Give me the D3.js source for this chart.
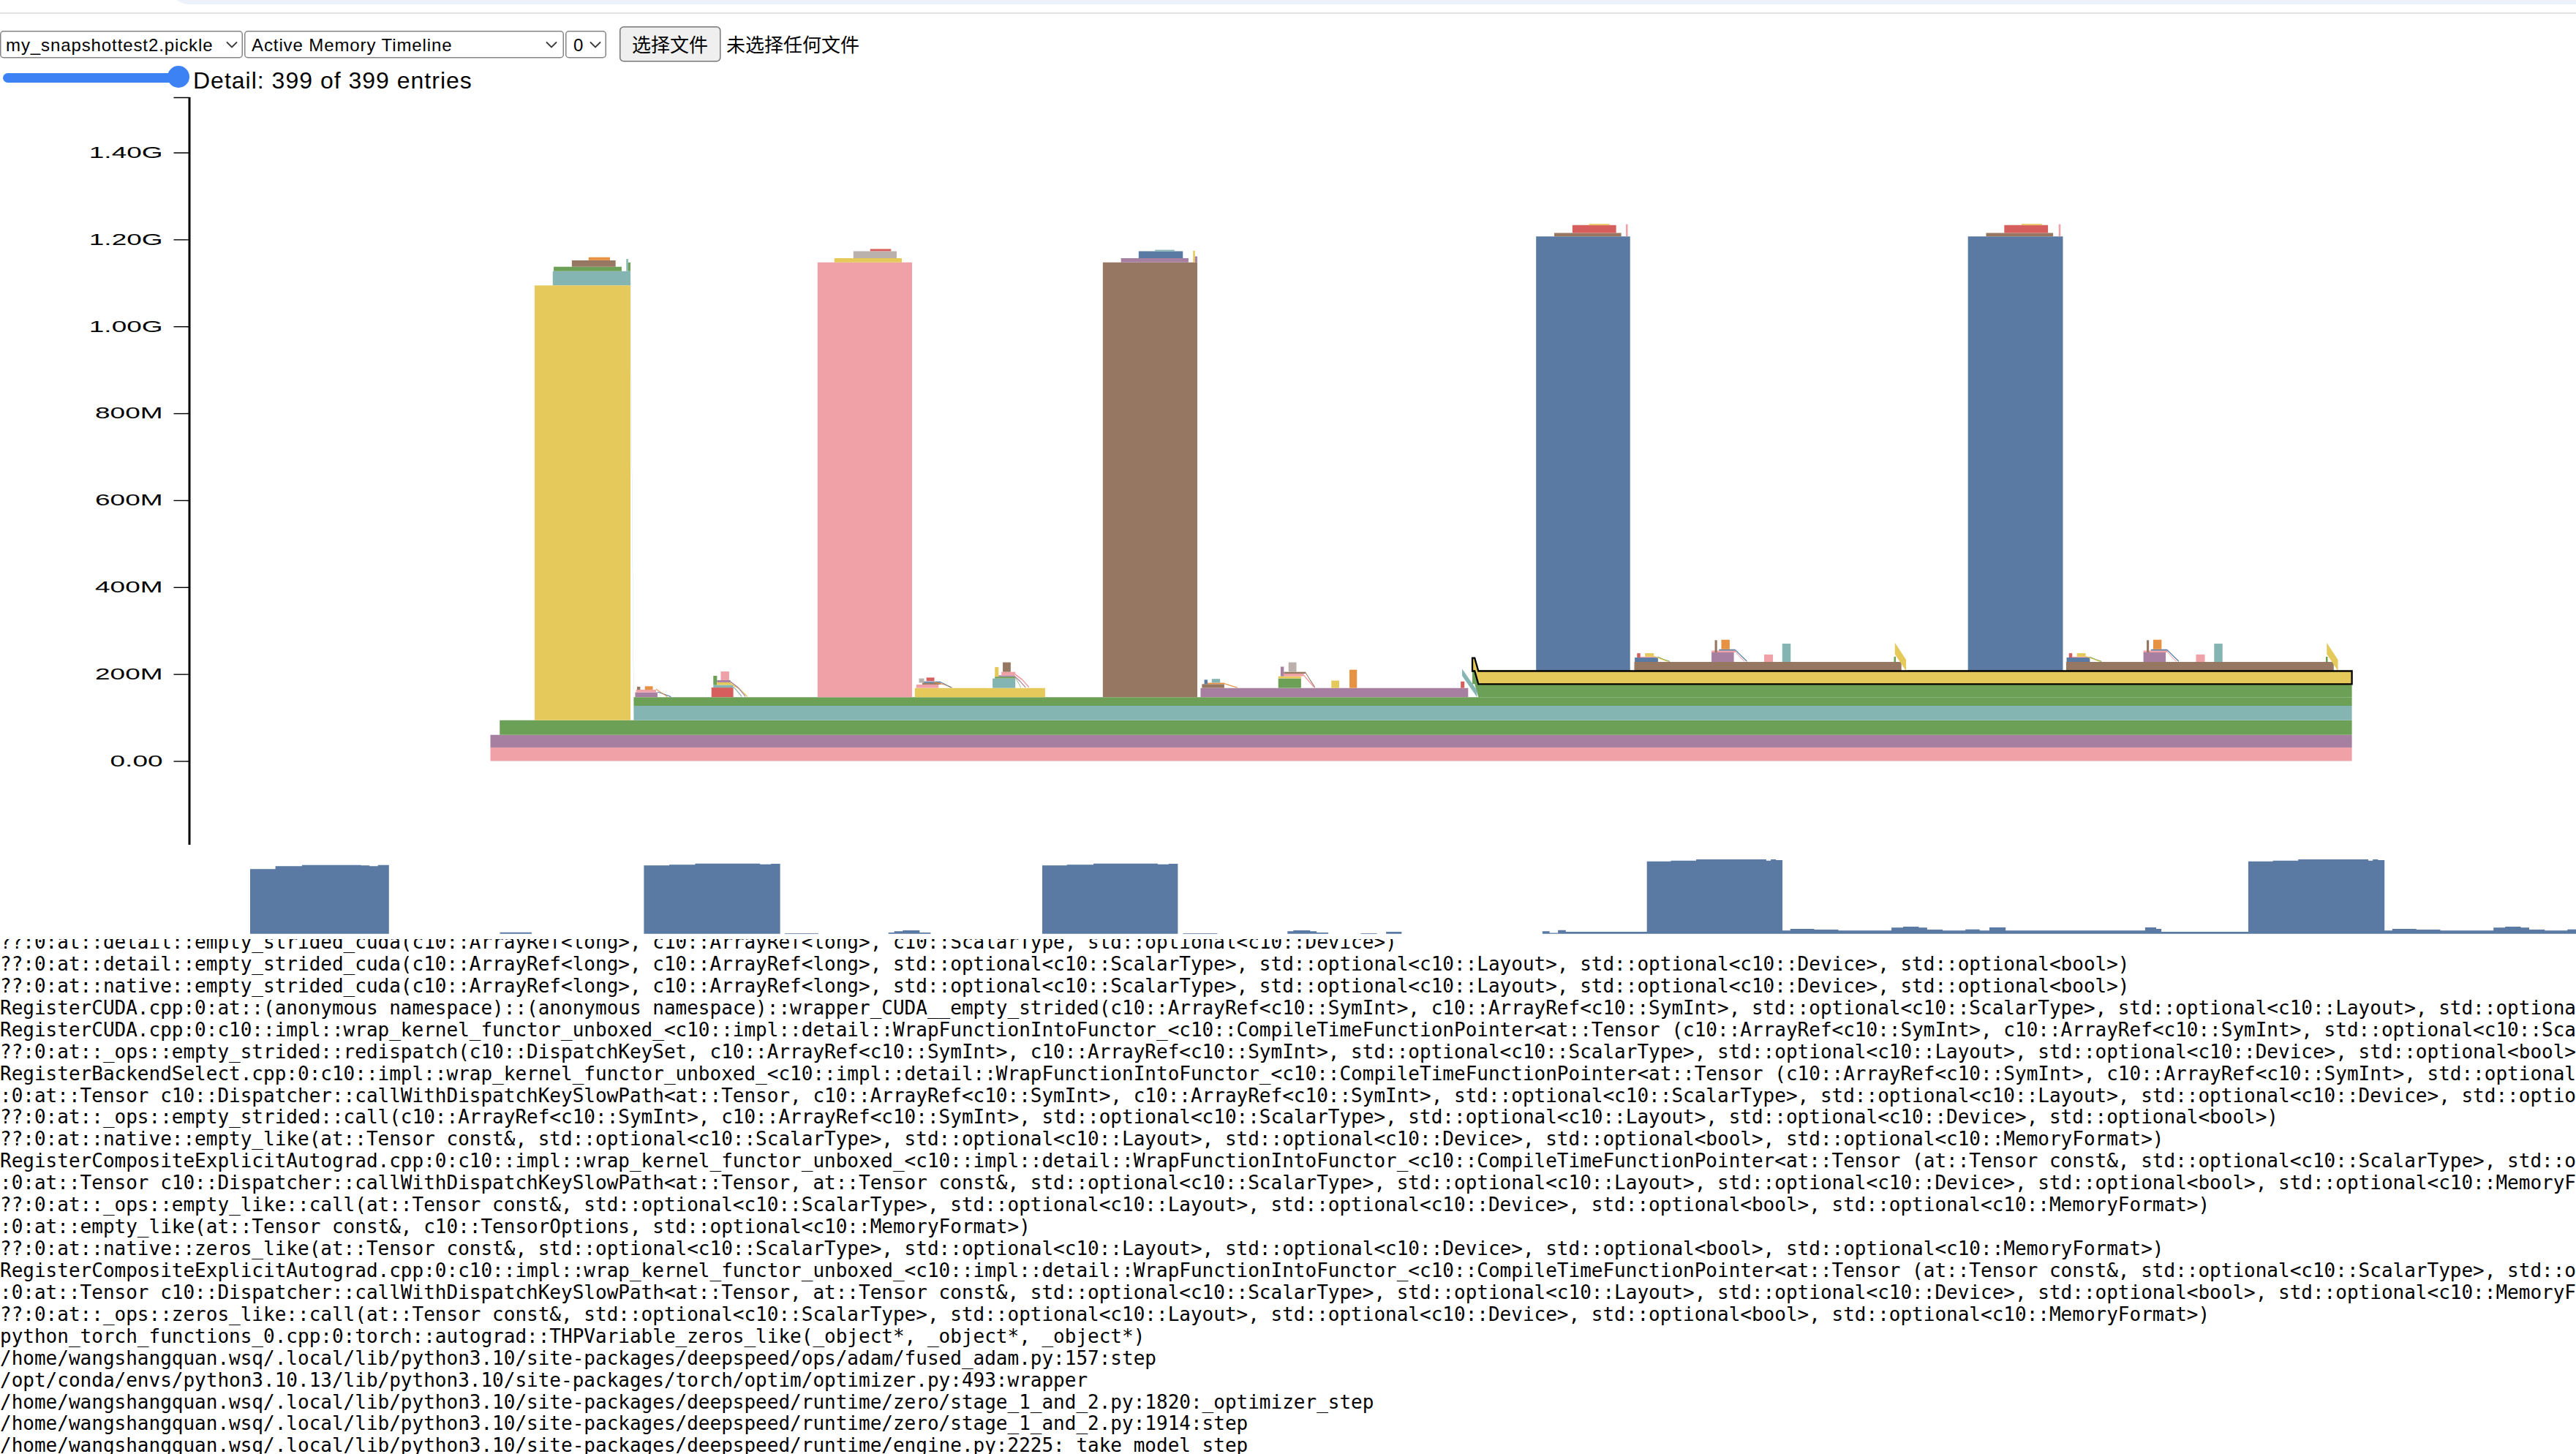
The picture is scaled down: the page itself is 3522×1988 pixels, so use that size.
<!DOCTYPE html>
<html><head><meta charset="utf-8">
<script src="https://cdnjs.cloudflare.com/ajax/libs/d3/7.8.5/d3.min.js"></script>
<style>
html,body{margin:0;padding:0;width:3522px;height:1988px;overflow:hidden;background:#fff;}
svg{position:absolute;left:0;top:0;}
</style></head><body>
<svg id="page" width="3522" height="1988"></svg>
<script>
// ---------------- data ----------------
const palette = ["#5a7aa3","#e79142","#d65f5e","#85b5b2","#6ca057","#e5c95b","#a77fa0","#f0a1a7","#967862","#bab0ac"];
const yTicks = [0, 2e8, 4e8, 6e8, 8e8, 1e9, 1.2e9, 1.4e9];   // bytes
const timeDomain = [0, 400];                                  // trace entries

// each allocation: colour index, timesteps, offsets (MB), size (MB)
const baseLayers = [
  {c:7,t:[0,400],o:[0,0],s:31},
  {c:6,t:[0,400],o:[31,31],s:29},
  {c:4,t:[2,400],o:[60,60],s:34},
  {c:3,t:[13.4,30.1,30.8,400],o:[1094,1094,94,94],s:33},
  {c:4,t:[30.8,400],o:[127,127],s:20}
];
const peakBars = [
  {c:5,t:[9.5,30.1],o:[94,94],s:1000},
  {c:7,t:[70.3,90.6],o:[147,147],s:1000},
  {c:8,t:[131.6,151.9],o:[147,147],s:1000},
  {c:0,t:[224.7,244.9],o:[207,207],s:1000},
  {c:0,t:[317.5,337.9],o:[207,207],s:1000}
];
const peakCaps = [
  {c:4,t:[13.6,28.2],o:[1127,1127],s:10},
  {c:8,t:[17.5,26.9],o:[1137,1137],s:15},
  {c:1,t:[21.1,25.7],o:[1152,1152],s:7},
  {c:3,t:[29.2,29.6],o:[1127,1127],s:28},
  {c:4,t:[29.6,30.1],o:[1127,1127],s:20},
  {c:5,t:[73.9,88.4],o:[1147,1147],s:10},
  {c:9,t:[78.0,87.3],o:[1157,1157],s:16},
  {c:2,t:[81.6,86.1],o:[1173,1173],s:5},
  {c:6,t:[135.5,150.0],o:[1147,1147],s:10},
  {c:0,t:[139.3,148.8],o:[1157,1157],s:16},
  {c:3,t:[142.8,147.0],o:[1173,1173],s:3},
  {c:5,t:[151.0,151.4],o:[1147,1147],s:27},
  {c:6,t:[151.4,151.9],o:[1147,1147],s:14},
  {c:8,t:[228.6,243.0],o:[1207,1207],s:8},
  {c:2,t:[232.5,241.9],o:[1215,1215],s:18},
  {c:5,t:[236.1,240.5],o:[1233,1233],s:3},
  {c:7,t:[244.0,244.4],o:[1207,1207],s:28},
  {c:8,t:[321.4,335.8],o:[1207,1207],s:8},
  {c:2,t:[325.3,334.7],o:[1215,1215],s:18},
  {c:5,t:[329.0,333.4],o:[1233,1233],s:3},
  {c:7,t:[337.0,337.4],o:[1207,1207],s:28}
];
const plateaus = [
  {c:5,t:[91.2,119.2],o:[147,147],s:21},
  {c:6,t:[152.6,210.1],o:[147,147],s:21},
  {c:4,t:[211.0,211.5,212.3,400],o:[177,177,147,147],s:30},
  {c:8,t:[245.8,303.2],o:[207,207],s:21},
  {c:8,t:[338.6,396.1],o:[207,207],s:21},
  {c:8,t:[212.5,224.7],o:[207,207],s:1.5},
  {c:8,t:[304.5,317.5],o:[207,207],s:1.5}
];
const smallBursts = [
  // after yellow peak
  {c:6,t:[31.1,35.9],o:[147,147],s:11},
  {c:7,t:[31.3,35.6],o:[158,158],s:6},
  {c:8,t:[31.5,32.2],o:[164,164],s:7},
  {c:1,t:[33.2,34.9],o:[164,164],s:8},
  {c:0,t:[35.9,36.8,38.8],o:[158,155,147],s:2},
  {c:1,t:[35.6,36.5,38.0],o:[164,158,147],s:2},
  {c:2,t:[47.5,52.2],o:[147,147],s:22},
  {c:3,t:[47.9,52.2],o:[169,169],s:6},
  {c:4,t:[47.9,48.7],o:[175,175],s:21},
  {c:5,t:[48.7,51.8],o:[175,175],s:6},
  {c:6,t:[48.7,51.6],o:[181,181],s:5},
  {c:7,t:[49.5,51.3],o:[186,186],s:20},
  {c:5,t:[51.8,53.5,55.2],o:[175,165,147],s:3},
  {c:6,t:[51.6,53.2,54.8],o:[181,168,147],s:3},
  {c:3,t:[52.2,53.0,54.0],o:[169,160,147],s:3},
  // after pink peak
  {c:7,t:[91.5,96.3],o:[168,168],s:8},
  {c:8,t:[92.8,96.8],o:[176,176],s:4},
  {c:0,t:[93.0,96.8],o:[180,180],s:3},
  {c:9,t:[92.1,93.2],o:[180,180],s:10},
  {c:2,t:[93.7,95.4],o:[184,184],s:8},
  {c:1,t:[95.4,97.5,99.2],o:[180,175,168],s:2},
  {c:0,t:[96.8,98.0,99.0],o:[180,174,168],s:2},
  {c:3,t:[107.9,112.8],o:[168,168],s:22},
  {c:4,t:[108.4,112.8],o:[190,190],s:4},
  {c:5,t:[108.4,109.2],o:[194,194],s:22},
  {c:6,t:[109.2,112.6],o:[194,194],s:3},
  {c:7,t:[109.8,112.8],o:[197,197],s:8},
  {c:8,t:[110.1,111.8],o:[205,205],s:22},
  {c:7,t:[112.8,114.3,115.7],o:[197,185,168],s:4},
  {c:6,t:[112.6,113.8,115.0],o:[194,182,168],s:3},
  {c:4,t:[112.8,113.4,114.0],o:[190,180,168],s:2},
  // after brown peak
  {c:8,t:[152.9,157.7],o:[168,168],s:9},
  {c:0,t:[153.4,154.1],o:[177,177],s:10},
  {c:1,t:[154.1,157.7],o:[177,177],s:3},
  {c:3,t:[155.0,156.8],o:[180,180],s:9},
  {c:1,t:[157.7,159.2,160.5],o:[177,172,168],s:2},
  {c:4,t:[169.3,174.2],o:[168,168],s:22},
  {c:5,t:[169.3,174.2],o:[190,190],s:5},
  {c:7,t:[170.5,174.8],o:[195,195],s:6},
  {c:8,t:[170.5,175.2],o:[201,201],s:4},
  {c:6,t:[169.8,170.5],o:[195,195],s:22},
  {c:9,t:[171.5,173.2],o:[205,205],s:22},
  {c:7,t:[174.8,176.0,177.0],o:[195,180,168],s:4},
  {c:8,t:[175.2,176.2,177.2],o:[201,184,168],s:3},
  {c:5,t:[180.7,182.4],o:[168,168],s:17},
  {c:1,t:[184.6,186.2],o:[168,168],s:42},
  {c:2,t:[208.5,209.3],o:[168,168],s:15},
  {c:3,t:[208.8,212.0],o:[196,147],s:16},
  // after first blue peak
  {c:0,t:[245.9,250.9],o:[228,228],s:10},
  {c:2,t:[246.4,247.1],o:[238,238],s:10},
  {c:7,t:[247.1,250.9],o:[238,238],s:2},
  {c:5,t:[248.1,250.0],o:[240,240],s:8},
  {c:4,t:[250.9,252.0,253.4],o:[238,233,228],s:2},
  {c:5,t:[250.0,251.5,253.0],o:[240,234,228],s:2},
  {c:6,t:[262.4,267.2],o:[228,228],s:22},
  {c:7,t:[262.4,267.6],o:[250,250],s:4},
  {c:8,t:[263.1,263.6],o:[250,250],s:28},
  {c:0,t:[264.0,267.5],o:[254,254],s:3},
  {c:1,t:[264.5,266.3],o:[257,257],s:22},
  {c:0,t:[267.5,268.8,270.0],o:[254,240,228],s:3},
  {c:7,t:[267.6,268.5,269.5],o:[250,238,228],s:2},
  {c:7,t:[273.7,275.6],o:[228,228],s:17},
  {c:3,t:[277.6,279.4],o:[228,228],s:42},
  {c:4,t:[301.6,302.0],o:[228,228],s:12},
  {c:5,t:[301.8,304.2],o:[246,207],s:26},
  // after second blue peak
  {c:0,t:[338.7,343.7],o:[228,228],s:10},
  {c:2,t:[339.2,339.9],o:[238,238],s:10},
  {c:7,t:[339.9,343.7],o:[238,238],s:2},
  {c:5,t:[340.9,342.8],o:[240,240],s:8},
  {c:4,t:[343.7,344.8,346.2],o:[238,233,228],s:2},
  {c:5,t:[342.8,344.3,345.8],o:[240,234,228],s:2},
  {c:6,t:[355.2,360.0],o:[228,228],s:22},
  {c:7,t:[355.2,360.4],o:[250,250],s:4},
  {c:8,t:[355.9,356.4],o:[250,250],s:28},
  {c:0,t:[356.8,360.3],o:[254,254],s:3},
  {c:1,t:[357.3,359.1],o:[257,257],s:22},
  {c:0,t:[360.3,361.6,362.8],o:[254,240,228],s:3},
  {c:7,t:[360.4,361.3,362.3],o:[250,238,228],s:2},
  {c:7,t:[366.5,368.4],o:[228,228],s:17},
  {c:3,t:[370.4,372.2],o:[228,228],s:42},
  {c:4,t:[394.4,394.8],o:[228,228],s:12},
  {c:5,t:[394.6,397.0],o:[246,207],s:26}
];
const highlighted = [
  {c:5,t:[211.0,211.5,212.3,400],o:[207,207,177,177],s:30}
];

// minimap: [timestep, max allocated MB] step levels
const miniSteps = [
  [0,0],[9.5,1078],[13.4,1127],[17.5,1146],[26.6,1139],[27.9,1127],[29.2,1146],[30.9,0],
  [48.0,25],[52.9,0],
  [70.2,1139],[74.1,1151],[78.1,1170],[88.1,1158],[89.8,1167],[91.2,0],
  [91.9,8],[97.1,0],
  [107.9,21],[108.8,41],[110.1,57],[112.7,21],[114.4,0],
  [131.6,1139],[135.4,1151],[139.5,1170],[149.4,1158],[151.1,1167],[152.5,0],
  [153.3,8],[158.6,0],
  [169.4,41],[170.3,57],[172.9,41],[173.9,21],[175.7,0],
  [180.7,8],[183.2,0],
  [184.6,33],[187.0,0],
  [208.7,41],[209.8,16],[211.1,61],[212.3,33],
  [224.8,1207],[228.5,1219],[232.4,1240],[243.2,1219],[243.9,1240],[244.7,1228],
  [245.7,54],[246.9,82],[250.6,70],[254.3,54],[262.5,102],[264.3,118],[266.7,102],[268.0,70],[270.4,54],
  [273.9,74],[276.1,54],[277.6,106],[280.1,54],[301.6,106],[303.3,82],[304.1,33],
  [317.5,1207],[321.3,1219],[325.2,1240],[336.0,1219],[336.7,1240],[337.5,1228],
  [338.5,54],[339.7,82],[343.4,70],[347.1,54],[355.3,102],[357.1,118],[359.5,102],[360.8,70],[363.2,54],
  [366.7,74],[368.9,54],[370.4,106],[372.9,54],[394.4,106],[396.1,82],[396.9,33]
];

const traceLines = [
"??:0:at::detail::empty_strided_cuda(c10::ArrayRef<long>, c10::ArrayRef<long>, c10::ScalarType, std::optional<c10::Device>)",
"??:0:at::detail::empty_strided_cuda(c10::ArrayRef<long>, c10::ArrayRef<long>, std::optional<c10::ScalarType>, std::optional<c10::Layout>, std::optional<c10::Device>, std::optional<bool>)",
"??:0:at::native::empty_strided_cuda(c10::ArrayRef<long>, c10::ArrayRef<long>, std::optional<c10::ScalarType>, std::optional<c10::Layout>, std::optional<c10::Device>, std::optional<bool>)",
"RegisterCUDA.cpp:0:at::(anonymous namespace)::(anonymous namespace)::wrapper_CUDA__empty_strided(c10::ArrayRef<c10::SymInt>, c10::ArrayRef<c10::SymInt>, std::optional<c10::ScalarType>, std::optional<c10::Layout>, std::optional<c10::Device>, std::optional<bool>)",
"RegisterCUDA.cpp:0:c10::impl::wrap_kernel_functor_unboxed_<c10::impl::detail::WrapFunctionIntoFunctor_<c10::CompileTimeFunctionPointer<at::Tensor (c10::ArrayRef<c10::SymInt>, c10::ArrayRef<c10::SymInt>, std::optional<c10::ScalarType>, std::optional<c10::Layout>, std::optional<c10::Device>, std::optional<bool>)",
"??:0:at::_ops::empty_strided::redispatch(c10::DispatchKeySet, c10::ArrayRef<c10::SymInt>, c10::ArrayRef<c10::SymInt>, std::optional<c10::ScalarType>, std::optional<c10::Layout>, std::optional<c10::Device>, std::optional<bool>)",
"RegisterBackendSelect.cpp:0:c10::impl::wrap_kernel_functor_unboxed_<c10::impl::detail::WrapFunctionIntoFunctor_<c10::CompileTimeFunctionPointer<at::Tensor (c10::ArrayRef<c10::SymInt>, c10::ArrayRef<c10::SymInt>, std::optional<c10::ScalarType>, std::optional<c10::Layout>)",
":0:at::Tensor c10::Dispatcher::callWithDispatchKeySlowPath<at::Tensor, c10::ArrayRef<c10::SymInt>, c10::ArrayRef<c10::SymInt>, std::optional<c10::ScalarType>, std::optional<c10::Layout>, std::optional<c10::Device>, std::optional<bool> >",
"??:0:at::_ops::empty_strided::call(c10::ArrayRef<c10::SymInt>, c10::ArrayRef<c10::SymInt>, std::optional<c10::ScalarType>, std::optional<c10::Layout>, std::optional<c10::Device>, std::optional<bool>)",
"??:0:at::native::empty_like(at::Tensor const&, std::optional<c10::ScalarType>, std::optional<c10::Layout>, std::optional<c10::Device>, std::optional<bool>, std::optional<c10::MemoryFormat>)",
"RegisterCompositeExplicitAutograd.cpp:0:c10::impl::wrap_kernel_functor_unboxed_<c10::impl::detail::WrapFunctionIntoFunctor_<c10::CompileTimeFunctionPointer<at::Tensor (at::Tensor const&, std::optional<c10::ScalarType>, std::optional<c10::Layout>)",
":0:at::Tensor c10::Dispatcher::callWithDispatchKeySlowPath<at::Tensor, at::Tensor const&, std::optional<c10::ScalarType>, std::optional<c10::Layout>, std::optional<c10::Device>, std::optional<bool>, std::optional<c10::MemoryFormat> >",
"??:0:at::_ops::empty_like::call(at::Tensor const&, std::optional<c10::ScalarType>, std::optional<c10::Layout>, std::optional<c10::Device>, std::optional<bool>, std::optional<c10::MemoryFormat>)",
":0:at::empty_like(at::Tensor const&, c10::TensorOptions, std::optional<c10::MemoryFormat>)",
"??:0:at::native::zeros_like(at::Tensor const&, std::optional<c10::ScalarType>, std::optional<c10::Layout>, std::optional<c10::Device>, std::optional<bool>, std::optional<c10::MemoryFormat>)",
"RegisterCompositeExplicitAutograd.cpp:0:c10::impl::wrap_kernel_functor_unboxed_<c10::impl::detail::WrapFunctionIntoFunctor_<c10::CompileTimeFunctionPointer<at::Tensor (at::Tensor const&, std::optional<c10::ScalarType>, std::optional<c10::Layout>)",
":0:at::Tensor c10::Dispatcher::callWithDispatchKeySlowPath<at::Tensor, at::Tensor const&, std::optional<c10::ScalarType>, std::optional<c10::Layout>, std::optional<c10::Device>, std::optional<bool>, std::optional<c10::MemoryFormat> >",
"??:0:at::_ops::zeros_like::call(at::Tensor const&, std::optional<c10::ScalarType>, std::optional<c10::Layout>, std::optional<c10::Device>, std::optional<bool>, std::optional<c10::MemoryFormat>)",
"python_torch_functions_0.cpp:0:torch::autograd::THPVariable_zeros_like(_object*, _object*, _object*)",
"/home/wangshangquan.wsq/.local/lib/python3.10/site-packages/deepspeed/ops/adam/fused_adam.py:157:step",
"/opt/conda/envs/python3.10.13/lib/python3.10/site-packages/torch/optim/optimizer.py:493:wrapper",
"/home/wangshangquan.wsq/.local/lib/python3.10/site-packages/deepspeed/runtime/zero/stage_1_and_2.py:1820:_optimizer_step",
"/home/wangshangquan.wsq/.local/lib/python3.10/site-packages/deepspeed/runtime/zero/stage_1_and_2.py:1914:step",
"/home/wangshangquan.wsq/.local/lib/python3.10/site-packages/deepspeed/runtime/engine.py:2225:_take_model_step"
];

const fileOptions = ["my_snapshottest2.pickle"];
const viewOptions = ["Active Memory Timeline"];
const deviceOptions = ["0"];
const detailLabel = "Detail: 399 of 399 entries";

// ---------------- layout ----------------
const W = 3522, H = 1988;
const svg = d3.select("#page");
const SANS = "'Liberation Sans', Arial, Helvetica, sans-serif";
const CJK = "'Noto Sans CJK SC', sans-serif";

// browser chrome remnants
svg.append("rect").attr("x",236).attr("y",-30).attr("width",W).attr("height",36).attr("rx",24).attr("fill","#edf1fa");
svg.append("rect").attr("x",0).attr("y",17).attr("width",W).attr("height",2).attr("fill","#e2e2e2");

// controls
function selectBox(x, w, label, textX, chevX){
  svg.append("rect").attr("x",x+0.75).attr("y",42.75).attr("width",w-1.5).attr("height",36)
    .attr("rx",4).attr("fill","#fff").attr("stroke","#858585").attr("stroke-width",1.5);
  svg.append("text").attr("x",textX).attr("y",70).attr("font-family",SANS).attr("font-size",24)
    .attr("letter-spacing",0.9).attr("fill","#000").text(label);
  svg.append("path").attr("d",`M${chevX},57.5 L${chevX+7},64.5 L${chevX+14},57.5`)
    .attr("fill","none").attr("stroke","#3a3a3a").attr("stroke-width",1.8);
}
selectBox(0, 332, fileOptions[0], 8, 310);
selectBox(334, 437, viewOptions[0], 344, 747);
selectBox(773, 56, deviceOptions[0], 784, 807);
svg.append("rect").attr("x",847.75).attr("y",36.75).attr("width",137).attr("height",47).attr("rx",5)
  .attr("fill","#efefef").attr("stroke","#767676").attr("stroke-width",1.5);
svg.append("text").attr("x",916).attr("y",71).attr("text-anchor","middle").attr("font-family",CJK)
  .attr("font-size",26).attr("fill","#000").text("选择文件");
svg.append("text").attr("x",993).attr("y",71).attr("font-family",CJK)
  .attr("font-size",26).attr("fill","#000").text("未选择任何文件");

// slider
svg.append("rect").attr("x",4).attr("y",100).attr("width",245).attr("height",13).attr("rx",6.5).attr("fill","#3d82f5");
svg.append("circle").attr("cx",244).attr("cy",105).attr("r",15).attr("fill","#3d82f5");
svg.append("text").attr("x",264).attr("y",121).attr("font-family",SANS).attr("font-size",32)
  .attr("letter-spacing",1).attr("fill","#000").text(detailLabel);

// ---------------- main plot ----------------
const axisX = 258.5, plotTop = 133, plotBottom = 1155, axisBottom = 1342;
const x = d3.scaleLinear().domain(timeDomain).range([670.5, 3215.6]);
const y = d3.scaleLinear().domain([0, 1.4e9]).range([1040.5, 208.5]);
const MB = 1e6;

const defs = svg.append("defs");
defs.append("clipPath").attr("id","plotclip").append("rect")
  .attr("x",axisX).attr("y",plotTop).attr("width",W-axisX).attr("height",plotBottom-plotTop);
defs.append("clipPath").attr("id","axisclip").append("rect")
  .attr("x",0).attr("y",plotTop-20).attr("width",axisX+10).attr("height",plotBottom-plotTop+20);
defs.append("clipPath").attr("id","textclip").append("rect")
  .attr("x",0).attr("y",1284).attr("width",W).attr("height",H-1284);

function points(d){
  const xs = d.t.map(v => x(v));
  const bot = d.o.map(v => y(v*MB));
  const top = d.o.map(v => y((v + d.s)*MB));
  const p0 = xs.map((X,i) => `${X},${bot[i]}`);
  const p1 = xs.map((X,i) => `${X},${top[i]}`).reverse();
  return p0.concat(p1).join(" ");
}

const plotG = svg.append("g").attr("clip-path","url(#plotclip)");
const allAllocs = baseLayers.concat(peakBars, peakCaps, plateaus, smallBursts);
plotG.selectAll("polygon.alloc").data(allAllocs).enter().append("polygon")
  .attr("class","alloc").attr("points",points).attr("fill",d => palette[d.c]);
plotG.selectAll("polygon.hl").data(highlighted).enter().append("polygon")
  .attr("class","hl").attr("points",points).attr("fill",d => palette[d.c])
  .attr("stroke","#000").attr("stroke-width",2.3).attr("stroke-linejoin","miter");

// y axis (scale extended over the full axis height)
const yAxisScale = y.copy().domain([y.invert(axisBottom), y.invert(plotTop)]).range([axisBottom, plotTop]);
const axisG = svg.append("g").attr("clip-path","url(#axisclip)")
  .append("g").attr("transform",`translate(${axisX},0)`)
  .call(d3.axisLeft(yAxisScale).tickValues(yTicks).tickFormat(d3.format(".3s"))
        .tickSize(21).tickSizeOuter(21).tickPadding(15));
axisG.selectAll("path,line").attr("stroke","#000").attr("stroke-width",1.4);
axisG.append("line").attr("x1",0.5).attr("x2",0.5).attr("y1",yAxisScale.range()[1]).attr("y2",yAxisScale.range()[0])
  .attr("stroke","#000").attr("stroke-width",3);
const stretch = 1.72;
axisG.selectAll(".tick text")
  .attr("font-family",SANS).attr("font-size",21.5).attr("fill","#000")
  .attr("x", -36/stretch).attr("transform",`scale(${stretch},1)`);

// ---------------- minimap ----------------
const mx = d3.scaleLinear().domain(timeDomain).range([257.7, 3805.7]);
const my = d3.scaleLinear().domain([0, 1240]).range([1276.7, 1175]);
const miniPts = [[timeDomain[1],0],[0,0]];
miniSteps.forEach(([t,v], i) => {
  const last = miniPts[miniPts.length-1][1];
  if (v !== last){ miniPts.push([t,last]); miniPts.push([t,v]); }
});
miniPts.push([timeDomain[1], miniSteps[miniSteps.length-1][1]]);
svg.append("polygon").attr("points", miniPts.map(([t,v]) => `${mx(t)},${my(v)}`).join(" "))
  .attr("fill", palette[0]);

// ---------------- stack trace text ----------------
const textG = svg.append("g").attr("clip-path","url(#textclip)");
textG.selectAll("text").data(traceLines).enter().append("text")
  .attr("x",0).attr("y",(d,i) => 1297 + i*29.93)
  .attr("font-family","'DejaVu Sans Mono', monospace").attr("font-size",26)
  .attr("fill","#000").style("white-space","pre").text(d => d);
</script>
</body></html>
